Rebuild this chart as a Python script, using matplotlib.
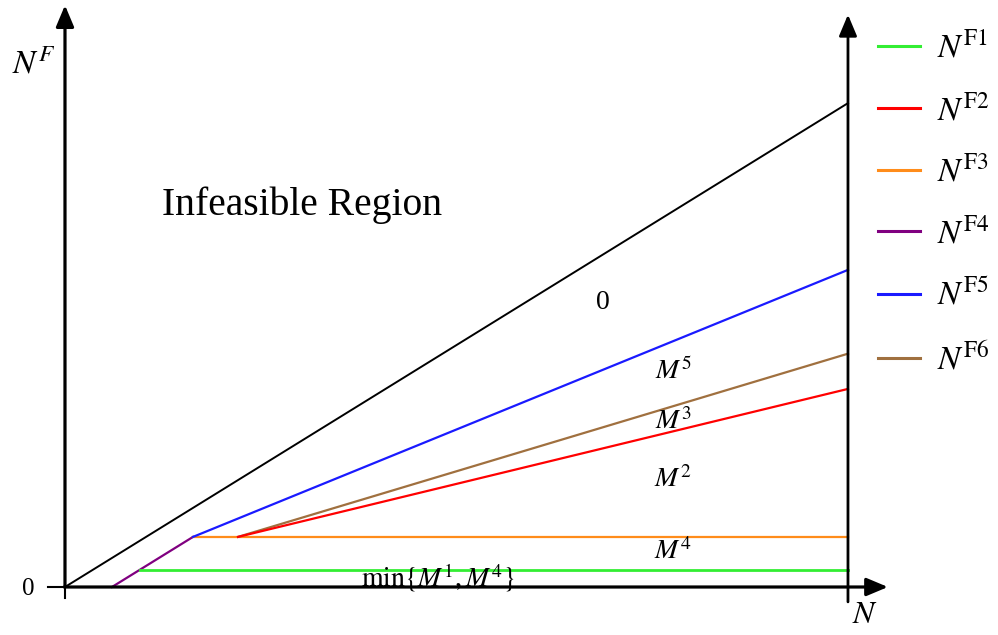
import matplotlib
matplotlib.use("Agg")
import matplotlib.pyplot as plt
from matplotlib.lines import Line2D

plt.rcParams['mathtext.fontset'] = 'stix'
plt.rcParams['font.family'] = ['Liberation Serif', 'DejaVu Serif']

# ---- data (abstract units) ----
x_right = 10.0
black_x = [0.0, 10.0]
black_y = [0.0, 6.18]
purple_x = [0.60, 1.635]
purple_y = [0.0, 0.64]
green_x = [0.96, 10.0]
green_y = [0.217, 0.217]
orange_x = [1.635, 10.0]
orange_y = [0.64, 0.64]
blue_x = [1.635, 10.0]
blue_y = [0.64, 4.05]
brown_x = [2.21, 10.0]
brown_y = [0.64, 2.98]
red_x = [2.21, 10.0]
red_y = [0.64, 2.53]

legend_labels = [r'$N^{\mathrm{F1}}$', r'$N^{\mathrm{F2}}$', r'$N^{\mathrm{F3}}$',
                 r'$N^{\mathrm{F4}}$', r'$N^{\mathrm{F5}}$', r'$N^{\mathrm{F6}}$']
legend_colors = ['#33ee33', '#ff0000', '#ff8c1a', '#800080', '#1a1aff', '#a0703f']

region_labels = ['0', r'$M^{5}$', r'$M^{3}$', r'$M^{2}$', r'$M^{4}$']
region_x = [6.87, 7.77, 7.77, 7.77, 7.77]
region_y = [3.63, 2.75, 2.11, 1.37, 0.45]

fig = plt.figure(figsize=(9.98, 6.35), dpi=100)
ax = fig.add_axes([0, 0, 1, 1])
ax.set_xlim(-0.830, 11.916)
ax.set_ylim(-0.613, 7.497)
ax.axis('off')

lw = 1.6
ax.plot(black_x, black_y, color='black', lw=1.4)
ax.plot(purple_x, purple_y, color=legend_colors[3], lw=lw)
ax.plot(green_x, green_y, color=legend_colors[0], lw=lw + 0.4)
ax.plot(orange_x, orange_y, color=legend_colors[2], lw=lw)
ax.plot(blue_x, blue_y, color=legend_colors[4], lw=lw)
ax.plot(brown_x, brown_y, color=legend_colors[5], lw=lw)
ax.plot(red_x, red_y, color=legend_colors[1], lw=lw)

# axes with arrows
arrow_kw = dict(arrowstyle='-|>,head_width=0.42,head_length=1.0', lw=2.3,
                color='black', shrinkA=0, shrinkB=0, mutation_scale=13)
ax.annotate('', xy=(0, 7.43), xytext=(0, 0), arrowprops=arrow_kw)
ax.annotate('', xy=(10.51, 0), xytext=(-0.01, 0), arrowprops=arrow_kw)
ax.annotate('', xy=(x_right, 7.31), xytext=(x_right, -0.19), arrowprops=dict(arrow_kw, lw=2.0))
# origin ticks
ax.plot([-0.217, 0], [0, 0], color='black', lw=1.5)
ax.plot([0, 0], [0, -0.14], color='black', lw=1.5)

# texts
ax.text(3.03, 4.88, 'Infeasible Region', fontsize=28.5, ha='center', va='center')
for lab, xx, yy in zip(region_labels, region_x, region_y):
    ax.text(xx, yy, lab, fontsize=20, ha='center', va='center')
ax.text(4.76, 0.12, r'$\mathrm{min}\{M^{1}, M^{4}\}$', fontsize=20, ha='center', va='center')
ax.text(-0.40, 6.67, r'$N^{F}$', fontsize=24, ha='center', va='center')
ax.text(-0.47, -0.03, '0', fontsize=18, ha='center', va='center')
ax.text(10.22, -0.36, r'$N$', fontsize=23, ha='center', va='center')

handles = [Line2D([0], [0], color=c, lw=2.2) for c in legend_colors]
leg = ax.legend(handles, legend_labels, loc='upper left', bbox_to_anchor=(0.880, 0.9485),
                frameon=False, fontsize=24, handlelength=1.26, handletextpad=0.5,
                labelspacing=0.875, borderaxespad=0, borderpad=0)

fig.savefig('out.png', dpi=100)
